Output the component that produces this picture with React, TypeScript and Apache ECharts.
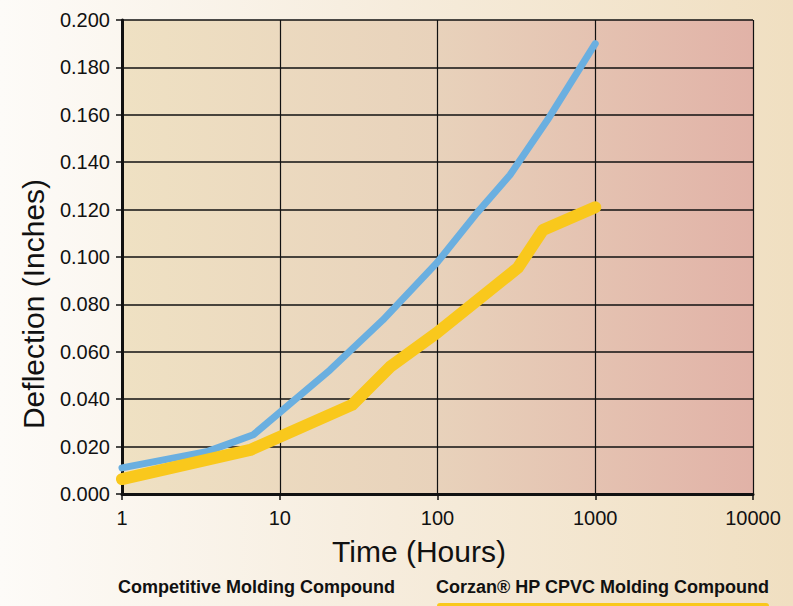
import React, { useEffect, useRef } from "react";
import * as echarts from "echarts";

const xTicks = [1, 10, 100, 1000, 10000];
const competitiveHours = [1, 3.5, 6.8, 20.8, 45, 99, 178, 288, 500, 1000];
const competitiveDeflection = [0.011, 0.018, 0.025, 0.0523, 0.0734, 0.0975, 0.1186, 0.1346, 0.158, 0.19];
const corzanHours = [1, 6.5, 28.7, 50, 99, 323, 466, 1000];
const corzanDeflection = [0.0063, 0.0186, 0.0376, 0.0536, 0.068, 0.0954, 0.1114, 0.121];
const seriesNames = ["Competitive Molding Compound", "Corzan® HP CPVC Molding Compound"];
const xTitle = "Time (Hours)";
const yTitle = "Deflection (Inches)";

export default function App() {
  const ref = useRef<HTMLDivElement>(null);
  useEffect(() => {
    if (!ref.current) return;
    const chart = echarts.init(ref.current, null, { renderer: "svg" });
    const font = "'Liberation Sans', Arial, Helvetica, sans-serif";
    chart.setOption({
      animation: false,
      backgroundColor: {
        type: "linear", x: 0, y: 0, x2: 1, y2: 0,
        colorStops: [
          { offset: 0, color: "#fdfbf8" },
          { offset: 0.5, color: "#f6ecdc" },
          { offset: 1, color: "#f0dfc1" },
        ],
      },
      grid: {
        left: 122, right: 40, top: 20, bottom: 112,
        show: true,
        borderWidth: 0,
        backgroundColor: {
          type: "linear", x: 0, y: 0, x2: 1, y2: 0,
          colorStops: [
            { offset: 0, color: "#efe1c3" },
            { offset: 0.5, color: "#e8d2bb" },
            { offset: 1, color: "#e1b2a7" },
          ],
        },
      },
      xAxis: {
        type: "log",
        logBase: 10,
        min: xTicks[0],
        max: xTicks[xTicks.length - 1],
        axisLine: { show: true, lineStyle: { color: "#111", width: 3 } },
        axisTick: { show: true, length: 6, lineStyle: { color: "#111", width: 1.5 } },
        axisLabel: {
          fontFamily: font, fontSize: 20, color: "#111", margin: 14,
          formatter: (v: number) => String(Math.round(v)),
        },
        splitLine: { show: true, lineStyle: { color: "#111", width: 1.2 } },
        minorTick: { show: false },
      },
      yAxis: {
        type: "value",
        min: 0,
        max: 0.2,
        interval: 0.02,
        axisLine: { show: true, lineStyle: { color: "#111", width: 3 } },
        axisTick: { show: true, length: 6, lineStyle: { color: "#111", width: 1.5 } },
        axisLabel: {
          fontFamily: font, fontSize: 20, color: "#111", margin: 12,
          formatter: (v: number) => v.toFixed(3),
        },
        splitLine: { show: true, lineStyle: { color: "#111", width: 1.5 } },
      },
      series: [
        {
          name: seriesNames[0],
          type: "line",
          data: competitiveHours.map((h, i) => [h, competitiveDeflection[i]]),
          showSymbol: false,
          lineStyle: { color: "#6aafe0", width: 7, cap: "round", join: "round" },
          z: 3,
        },
        {
          name: seriesNames[1],
          type: "line",
          data: corzanHours.map((h, i) => [h, corzanDeflection[i]]),
          showSymbol: false,
          lineStyle: { color: "#f9c81c", width: 12, cap: "round", join: "round" },
          z: 4,
        },
      ],
      graphic: [
        {
          type: "text", x: 33, y: 304, rotation: Math.PI / 2,
          style: { text: yTitle, font: `30px ${font}`, fill: "#111", align: "center", verticalAlign: "middle" },
        },
        {
          type: "text", x: 419, y: 551,
          style: { text: xTitle, font: `30px ${font}`, fill: "#111", align: "center", verticalAlign: "middle" },
        },
        {
          type: "text", x: 118, y: 587,
          style: { text: seriesNames[0], font: `bold 18px ${font}`, fill: "#111", verticalAlign: "middle" },
        },
        {
          type: "text", x: 436, y: 587,
          style: { text: seriesNames[1], font: `bold 18px ${font}`, fill: "#111", verticalAlign: "middle" },
        },
        {
          type: "rect", shape: { x: 437, y: 603, width: 332, height: 6, r: 3 },
          style: { fill: "#f9c81c" },
        },
      ],
    });
    return () => chart.dispose();
  }, []);
  return <div ref={ref} style={{ position: "fixed", left: 0, top: 0, width: 793, height: 606 }} />;
}
